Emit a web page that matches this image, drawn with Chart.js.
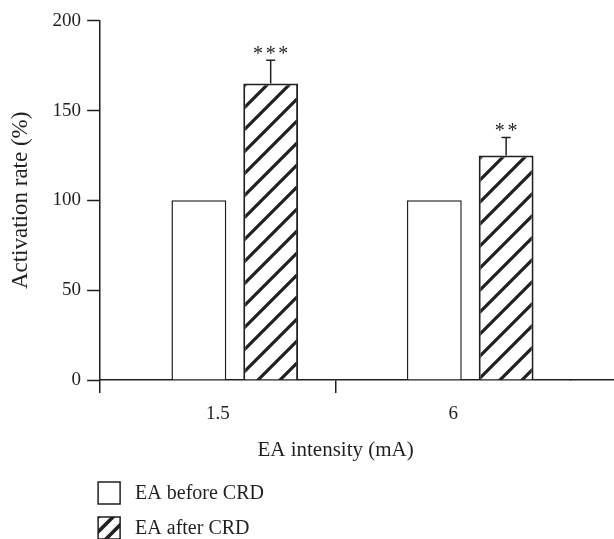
<!DOCTYPE html>
<html>
<head>
<meta charset="utf-8">
<script src="https://cdn.jsdelivr.net/npm/chart.js@4.4.1/dist/chart.umd.min.js"></script>
<style>
html,body{margin:0;padding:0;background:#fff;}
#wrap{width:614px;height:539px;position:relative;}
</style>
</head>
<body>
<div id="wrap"><canvas id="c" width="614" height="539"></canvas></div>
<script>
// ---- data ----
const categories = ['1.5', '6'];
const seriesNames = ['EA before CRD', 'EA after CRD'];
const beforeValues = [100, 100];
const afterValues = [165, 125];
const afterErrors = [13, 10];
const significance = ['***', '**'];
const yTicks = [0, 50, 100, 150, 200];
const xTitle = 'EA intensity (mA)';
const yTitle = 'Activation rate (%)';

// ---- style ----
const INK = '#231f20';
const SERIF = "'Liberation Serif', 'DejaVu Serif', serif";
const barShift = 0.072; // bars sit slightly right of the category label

function makeHatch(size, width) {
  const c = document.createElement('canvas');
  c.width = size; c.height = size;
  const g = c.getContext('2d');
  g.fillStyle = '#fff';
  g.fillRect(0, 0, size, size);
  g.strokeStyle = INK;
  g.lineWidth = width;
  g.lineCap = 'square';
  g.beginPath();
  g.moveTo(0, size); g.lineTo(size, 0);
  g.moveTo(-size, size); g.lineTo(size, -size);
  g.moveTo(0, 2 * size); g.lineTo(2 * size, 0);
  g.stroke();
  return g.createPattern(c, 'repeat');
}
const hatch = makeHatch(22, 3.2);
const legendHatch = makeHatch(15, 3.6);

const errorBarPlugin = {
  id: 'errorBars',
  afterDatasetsDraw(chart) {
    const ctx = chart.ctx;
    const y = chart.scales.y;
    const meta = chart.getDatasetMeta(1);
    ctx.save();
    ctx.strokeStyle = INK;
    ctx.fillStyle = INK;
    ctx.lineWidth = 1.5;
    meta.data.forEach((el, i) => {
      const top = y.getPixelForValue(afterValues[i] + afterErrors[i]);
      ctx.beginPath();
      ctx.moveTo(el.x, el.y);
      ctx.lineTo(el.x, top);
      ctx.moveTo(el.x - 4.5, top);
      ctx.lineTo(el.x + 4.5, top);
      ctx.stroke();
      ctx.font = '20px ' + SERIF;
      ctx.textAlign = 'center';
      ctx.textBaseline = 'alphabetic';
      const stars = significance[i].split('');
      const gap = 12.6;
      stars.forEach((s, j) => {
        ctx.fillText(s, el.x + (j - (stars.length - 1) / 2) * gap, top);
      });
    });
    ctx.restore();
  }
};

const axisExtendPlugin = {
  id: 'axisExtend',
  afterDraw(chart) {
    const ctx = chart.ctx;
    const w = 1.5;
    const xs = chart.scales.x;
    const yy = Math.round(xs.top - w / 2) + w / 2;
    ctx.save();
    ctx.strokeStyle = INK;
    ctx.lineWidth = w;
    ctx.beginPath();
    ctx.moveTo(chart.chartArea.right - 1, yy);
    ctx.lineTo(chart.width, yy);
    ctx.stroke();
    ctx.restore();
  }
};

const legendPlugin = {
  id: 'boxLegend',
  afterDraw(chart) {
    const ctx = chart.ctx;
    const left = chart.chartArea.left - 2;
    const top0 = 482;
    const step = 35;
    const box = 22;
    ctx.save();
    chart.data.datasets.forEach((ds, i) => {
      const top = top0 + i * step;
      ctx.fillStyle = i === 0 ? '#fff' : legendHatch;
      ctx.fillRect(left, top, box, box);
      ctx.strokeStyle = INK;
      ctx.lineWidth = 1.5;
      ctx.strokeRect(left, top, box, box);
      ctx.fillStyle = INK;
      ctx.font = '20px ' + SERIF;
      ctx.textAlign = 'left';
      ctx.textBaseline = 'middle';
      ctx.fillText(ds.label, left + 37, top + box / 2 + 1);
    });
    ctx.restore();
  }
};

new Chart(document.getElementById('c'), {
  type: 'bar',
  data: {
    datasets: [
      {
        label: seriesNames[0],
        data: beforeValues.map((v, i) => ({ x: i, y: v })),
        backgroundColor: '#fff',
        borderColor: INK,
        borderWidth: 1.5,
        xAxisID: 'xb',
        yAxisID: 'y'
      },
      {
        label: seriesNames[1],
        data: afterValues.map((v, i) => ({ x: i, y: v })),
        backgroundColor: hatch,
        borderColor: INK,
        borderWidth: 2,
        xAxisID: 'xb',
        yAxisID: 'y'
      }
    ]
  },
  options: {
    responsive: false,
    devicePixelRatio: 1,
    animation: false,
    categoryPercentage: 0.61,
    barPercentage: 0.764,
    layout: { padding: { top: 20.7, right: 43, bottom: 76, left: 0 } },
    plugins: { legend: { display: false }, tooltip: { enabled: false } },
    scales: {
      xb: {
        type: 'linear',
        display: false,
        offset: false,
        bounds: 'data',
        min: -0.5 - barShift,
        max: categories.length - 0.5 - barShift,
        afterBuildTicks: s => { s.ticks = categories.map((c, i) => ({ value: i })); }
      },
      x: {
        type: 'category',
        labels: categories,
        position: 'bottom',
        offset: true,
        grid: {
          display: true,
          offset: true,
          drawOnChartArea: false,
          drawTicks: true,
          tickLength: 13,
          tickWidth: 1.5,
          lineWidth: 1.5,
          tickColor: ctx => (ctx.type === 'tick' ? INK : 'rgba(0,0,0,0)')
        },
        border: { display: true, color: INK, width: 1.5 },
        ticks: { font: { family: SERIF, size: 19 }, color: INK, padding: 10 },
        title: {
          display: true, text: xTitle, color: INK,
          font: { family: SERIF, size: 21 },
          padding: { top: 2, bottom: 0 }
        }
      },
      y: {
        type: 'linear',
        min: 0,
        max: 200,
        afterBuildTicks: s => { s.ticks = yTicks.map(v => ({ value: v })); },
        grid: {
          drawOnChartArea: false,
          drawTicks: true,
          tickLength: 13,
          tickWidth: 1.5,
          tickColor: INK
        },
        border: { display: true, color: INK, width: 1.5 },
        ticks: { font: { family: SERIF, size: 19 }, color: INK, padding: 6 },
        title: {
          display: true, text: yTitle, color: INK,
          font: { family: SERIF, size: 23 },
          padding: { top: 7, bottom: 12 }
        }
      }
    }
  },
  plugins: [errorBarPlugin, axisExtendPlugin, legendPlugin]
});
</script>
</body>
</html>
